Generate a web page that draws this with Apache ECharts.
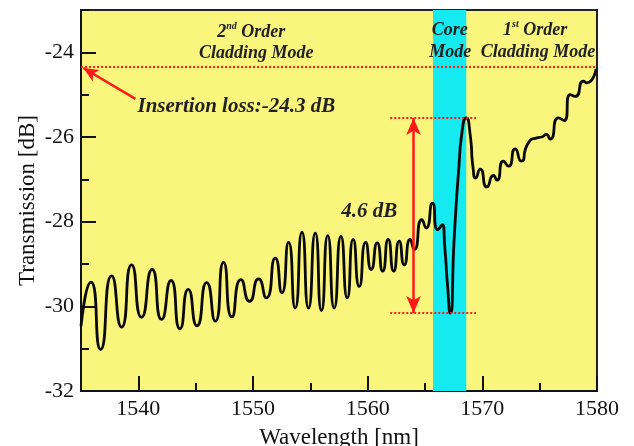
<!DOCTYPE html>
<html>
<head>
<meta charset="utf-8">
<script src="https://cdn.jsdelivr.net/npm/echarts@6/dist/echarts.min.js"></script>
<style>
html,body{margin:0;padding:0;background:#fff;}
#chart{width:634px;height:446px;}
</style>
</head>
<body>
<div id="chart"></div>
<script>
// ---- data ----
const wavelength = [
  1535.0, 1535.87, 1536.71, 1537.67, 1538.54, 1539.41, 1540.28, 1541.2, 1542.03, 1542.85,
  1543.63, 1544.35, 1545.11, 1545.96, 1546.71, 1547.43, 1548.16, 1548.95, 1549.7, 1550.48,
  1551.16, 1551.94, 1552.52, 1553.1, 1553.68, 1554.27, 1554.84, 1555.43, 1555.97, 1556.52,
  1557.08, 1557.67, 1558.22, 1558.74, 1559.27, 1559.83, 1560.31, 1560.83, 1561.31, 1561.79,
  1562.27, 1562.75, 1563.19, 1563.71, 1564.06, 1564.73, 1565.1, 1565.65, 1566.11, 1566.5,
  1566.74, 1566.95, 1567.2, 1567.57, 1567.96, 1568.22, 1568.59, 1568.94, 1569.2, 1569.42,
  1569.81, 1570.4, 1570.97, 1571.27, 1571.84, 1572.28, 1572.86, 1573.39, 1574.02, 1574.76,
  1575.19, 1575.57, 1575.92, 1576.64, 1577.14, 1577.66, 1578.1, 1578.82, 1579.11, 1579.92
];
const transmission = [
  -30.47, -29.43, -31.02, -29.28, -30.49, -29.02, -30.26, -29.13, -30.31, -29.39,
  -30.53, -29.6, -30.46, -29.44, -30.35, -28.96, -30.25, -29.37, -29.88, -29.35,
  -29.8, -28.86, -29.68, -28.49, -30.04, -28.25, -30.04, -28.27, -30.1, -28.33,
  -30.04, -28.35, -29.8, -28.42, -29.53, -28.49, -29.13, -28.5, -29.17, -28.42,
  -29.17, -28.46, -29.02, -28.42, -28.66, -27.95, -28.15, -27.56, -28.19, -28.07,
  -28.66, -29.45, -30.16, -28.27, -26.69, -25.9, -25.55, -25.95, -26.75, -26.97,
  -26.76, -27.18, -26.91, -27.02, -26.57, -26.69, -26.28, -26.57, -26.14, -26.02,
  -26.0, -25.94, -26.05, -25.55, -25.61, -25.0, -25.04, -24.68, -24.72, -24.39
];
const xMajorTicks = [1540, 1550, 1560, 1570, 1580];
const yMajorTicks = [-32, -30, -28, -26, -24];
const coreBand = [1565.7, 1568.6];
const insertionLoss = -24.35;
const dipTop = -25.55;
const dipBottom = -30.16;
const dipLineX = [1561.97, 1569.45];
const dipArrowX = 1564.0;
const lossArrowFrom = [1539.75, -25.1];
const lossArrowTo = [1535.2, -24.37];
const textLabels = [
  { text: '{t|2}{s|nd}{t| Order}', at: [1549.85, -23.52] },
  { text: '{t|Cladding Mode}', at: [1550.29, -24.02] },
  { text: '{t|Core}', at: [1567.15, -23.49] },
  { text: '{t|Mode}', at: [1567.2, -24.0] },
  { text: '{t|1}{s|st}{t| Order}', at: [1574.6, -23.48] },
  { text: '{t|Cladding Mode}', at: [1574.85, -24.0] },
  { text: '{b|Insertion loss:-24.3 dB}', at: [1548.55, -25.28] },
  { text: '{b|4.6 dB}', at: [1560.14, -27.77] }
];

// ---- chart ----
const serif = 'Liberation Serif';
const curve = wavelength.map((w, i) => [w, transmission[i]]);
const red = '#ff1a1a';
const dark = '#111';

const chart = echarts.init(document.getElementById('chart'), null, { renderer: 'canvas' });

const richStyles = {
  t: { fontFamily: serif, fontStyle: 'italic', fontWeight: 'bold', fontSize: 18, color: '#222', lineHeight: 21 },
  s: { fontFamily: serif, fontStyle: 'italic', fontWeight: 'bold', fontSize: 10, color: '#222', verticalAlign: 'top', lineHeight: 21 },
  b: { fontFamily: serif, fontStyle: 'italic', fontWeight: 'bold', fontSize: 21, color: '#222' }
};

const option = {
  backgroundColor: '#ffffff',
  animation: false,
  grid: {
    left: 81, right: 37, top: 10, bottom: 55,
    outerBoundsMode: 'none', containLabel: false,
    show: true, backgroundColor: '#FAF57D', borderColor: '#222', borderWidth: 2
  },
  xAxis: [
    {
      type: 'value', min: 1535, max: 1580, interval: 5, position: 'bottom',
      axisLine: { lineStyle: { color: dark, width: 2 } },
      axisTick: { inside: true, length: 8, lineStyle: { color: dark, width: 2 } },
      axisLabel: { formatter: v => (v % 10 === 0 ? String(v) : ''), fontFamily: serif, fontSize: 22, color: dark, margin: 7 },
      splitLine: { show: false },
      name: 'Wavelength [nm]', nameLocation: 'middle', nameGap: 35,
      nameTextStyle: { fontFamily: serif, fontSize: 23, color: dark }
    },
    {
      type: 'value', min: 1535, max: 1580, position: 'bottom', offset: 0,
      axisLine: { show: false },
      axisTick: { inside: true, length: 15, customValues: xMajorTicks, lineStyle: { color: dark, width: 2 } },
      axisLabel: { show: false },
      splitLine: { show: false }
    }
  ],
  yAxis: [
    {
      type: 'value', min: -32, max: -23, interval: 1, position: 'left',
      axisLine: { lineStyle: { color: dark, width: 2 } },
      axisTick: { inside: true, length: 8, lineStyle: { color: dark, width: 2 } },
      axisLabel: { formatter: v => (v % 2 === 0 ? String(v) : ''), fontFamily: serif, fontSize: 22, color: dark, margin: 7 },
      splitLine: { show: false },
      name: 'Transmission [dB]', nameLocation: 'middle', nameGap: 42, nameMoveOverlap: false,
      nameTextStyle: { fontFamily: serif, fontSize: 23, color: dark }
    },
    {
      type: 'value', min: -32, max: -23, position: 'left', offset: 0,
      axisLine: { show: false },
      axisTick: { inside: true, length: 15, customValues: yMajorTicks, lineStyle: { color: dark, width: 2 } },
      axisLabel: { show: false },
      splitLine: { show: false }
    }
  ],
  series: [
    {
      name: 'band', type: 'line', data: curve, z: 1, silent: true,
      showSymbol: false, symbol: 'none',
      lineStyle: { opacity: 0, width: 0 },
      markArea: {
        silent: true,
        itemStyle: { color: '#14EAF0', opacity: 1 },
        data: [[{ xAxis: coreBand[0] }, { xAxis: coreBand[1] }]]
      }
    },
    {
      name: 'Transmission', type: 'line', data: curve, z: 3,
      smooth: 0.7, showSymbol: false, symbol: 'none',
      lineStyle: { color: '#0a0a0a', width: 2.8 }
    },
    {
      name: 'annotations', type: 'line', data: curve, z: 5, silent: true,
      showSymbol: false, symbol: 'none',
      lineStyle: { opacity: 0, width: 0 },
      markLine: {
        silent: true,
        label: { show: false },
        data: [
          [
            { coord: [1535, insertionLoss], symbol: 'none', lineStyle: { color: red, type: 'dotted', width: 2 } },
            { coord: [1580, insertionLoss], symbol: 'none' }
          ],
          [
            { coord: [dipLineX[0], dipTop], symbol: 'none', lineStyle: { color: red, type: 'dotted', width: 2 } },
            { coord: [dipLineX[1], dipTop], symbol: 'none' }
          ],
          [
            { coord: [dipLineX[0], dipBottom], symbol: 'none', lineStyle: { color: red, type: 'dotted', width: 2 } },
            { coord: [dipLineX[1], dipBottom], symbol: 'none' }
          ],
          [
            { coord: [dipArrowX, dipTop], symbol: 'arrow', symbolSize: [11, 17], lineStyle: { color: red, type: 'solid', width: 2.5 } },
            { coord: [dipArrowX, dipBottom], symbol: 'arrow', symbolSize: [11, 17] }
          ],
          [
            { coord: lossArrowFrom, symbol: 'none', lineStyle: { color: red, type: 'solid', width: 2.5 } },
            { coord: lossArrowTo, symbol: 'arrow', symbolSize: [10, 15] }
          ]
        ]
      },
      markPoint: {
        silent: true,
        symbol: 'circle', symbolSize: 0,
        itemStyle: { color: 'transparent' },
        data: textLabels.map(t => ({
          coord: t.at,
          label: {
            show: true, position: 'inside', align: 'center', verticalAlign: 'middle',
            formatter: t.text, rich: richStyles
          }
        }))
      }
    }
  ]
};

chart.setOption(option);
</script>
</body>
</html>
